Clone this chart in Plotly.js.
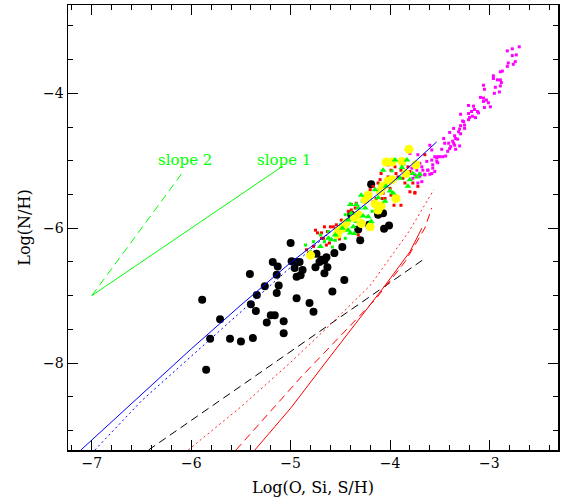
<!DOCTYPE html>
<html>
<head>
<meta charset="utf-8">
<script src="https://cdn.plot.ly/plotly-3.0.1.min.js"></script>
<style>html,body{margin:0;padding:0;background:#fff;}#chart{width:567px;height:498px;}</style>
</head>
<body>
<div id="chart"></div>
<script>
// ---- scatter data ----
const blackX = [-4.19,-5.00,-5.18,-5.13,-4.99,-4.94,-4.91,-4.96,-4.88,-4.94,-4.90,-5.41,-5.14,-5.26,-5.12,-5.14,-5.34,-5.89,-5.40,-5.35,-4.94,-4.81,-4.77,-5.20,-5.16,-5.24,-5.07,-5.07,-5.71,-5.81,-5.61,-5.50,-5.38,-5.85,-4.74,-4.71,-4.69,-4.66,-4.64,-4.63,-4.66,-4.75,-4.56,-4.48,-4.58,-4.46,-4.30,-4.39,-4.32,-4.21,-4.06,-4.01,-4.10,-4.07,-4.12];
const blackY = [-5.35,-6.22,-6.50,-6.57,-6.49,-6.50,-6.50,-6.59,-6.62,-6.72,-6.70,-6.68,-6.69,-6.86,-6.85,-6.96,-6.99,-7.06,-7.13,-7.23,-7.04,-7.11,-7.24,-7.29,-7.29,-7.40,-7.38,-7.56,-7.35,-7.64,-7.64,-7.68,-7.63,-8.10,-6.38,-6.50,-6.47,-6.48,-6.43,-6.58,-6.67,-6.58,-6.37,-6.28,-6.94,-6.77,-6.18,-5.80,-6.02,-5.95,-6.01,-5.96,-5.78,-5.78,-5.80];

const yellowX = [-3.81,-4.04,-3.98,-3.88,-3.74,-3.84,-3.98,-4.07,-3.94,-4.22,-4.25,-4.15,-4.09,-4.12,-4.32,-4.36,-4.29,-4.44,-4.20,-4.52,-4.47,-4.53,-4.80,-4.02,-4.10];
const yellowY = [-4.83,-5.02,-5.02,-5.01,-5.06,-5.19,-5.28,-5.38,-5.56,-5.51,-5.58,-5.64,-5.67,-5.73,-5.80,-5.84,-5.93,-5.92,-5.98,-6.04,-6.00,-6.09,-6.40,-5.30,-5.45];

const triX = [-4.07,-3.90,-3.83,-3.82,-3.80,-3.77,-3.73,-4.04,-4.15,-4.29,-4.32,-4.39,-4.42,-4.27,-4.22,-4.19,-3.97,-3.95,-4.70,-4.59,-4.40,-4.40,-4.34,-4.42,-4.36,-4.37,-4.55,-4.48,-4.12,-4.05,-3.88,-3.70,-4.62,-4.25,-4.00];
const triY = [-5.14,-5.26,-4.99,-5.38,-5.28,-5.19,-5.24,-5.38,-5.43,-5.51,-5.70,-5.78,-5.88,-5.82,-5.83,-5.90,-5.48,-4.99,-6.27,-6.17,-6.07,-5.65,-5.65,-6.03,-6.08,-5.98,-6.10,-6.00,-5.55,-5.60,-5.10,-5.20,-6.15,-5.70,-5.45];

const greenX = [-4.85,-4.80,-4.62,-4.55,-4.50,-4.45,-4.35,-4.28,-4.20,-4.10,-3.98,-3.86,-4.70,-4.66,-4.58,-4.77,-4.45,-4.18];
const greenY = [-6.25,-6.35,-6.05,-6.18,-5.95,-6.15,-5.90,-5.60,-5.55,-5.35,-5.15,-5.05,-6.10,-6.20,-6.28,-6.20,-5.80,-5.75];

const redX = [-4.02,-3.99,-3.95,-3.94,-3.92,-3.89,-3.87,-3.85,-3.82,-3.80,-3.77,-3.75,-3.72,-4.09,-4.12,-4.17,-4.20,-4.25,-4.34,-4.35,-4.39,-4.42,-4.07,-4.14,-4.17,-4.05,-3.99,-3.89,-3.65,-3.95,-4.02,-4.10,-3.75,-3.96,-4.69,-4.67,-4.60,-4.54,-4.66,-4.49,-4.39,-4.61,-4.77,-4.32,-4.69,-4.63,-4.57,-4.35,-4.25,-4.08,-4.00,-3.80,-4.84,-4.64,-4.75,-4.51,-4.73];
const redY = [-5.06,-5.14,-5.09,-5.19,-5.24,-5.14,-5.26,-5.33,-5.09,-5.16,-5.33,-5.48,-5.38,-5.19,-5.33,-5.38,-5.43,-5.56,-5.63,-5.70,-5.73,-5.75,-5.48,-5.56,-5.61,-5.56,-5.51,-5.66,-4.91,-5.28,-5.24,-5.28,-5.47,-5.66,-6.07,-6.15,-5.98,-5.95,-5.98,-5.88,-5.65,-6.22,-6.27,-6.10,-6.15,-6.05,-5.98,-5.78,-5.58,-5.56,-5.41,-5.46,-6.32,-6.25,-6.03,-6.16,-6.07];

const magX = [-2.70,-2.77,-2.73,-2.77,-2.82,-2.81,-2.74,-2.76,-2.82,-2.96,-2.96,-2.89,-2.87,-2.92,-2.89,-2.88,-2.89,-3.06,-3.05,-2.94,-2.95,-2.90,-3.09,-3.06,-3.03,-3.06,-2.99,-3.05,-3.01,-3.21,-3.16,-3.15,-3.18,-3.21,-3.12,-3.11,-3.29,-3.17,-3.20,-3.14,-3.27,-3.21,-3.26,-3.25,-3.29,-3.36,-3.30,-3.25,-3.31,-3.29,-3.40,-3.35,-3.34,-3.32,-3.37,-3.46,-3.45,-3.41,-3.36,-3.35,-3.30,-3.39,-3.40,-3.34,-3.42,-3.48,-3.50,-3.47,-3.44,-3.55,-3.52,-3.58,-3.53,-3.60,-3.57,-3.52,-3.62,-3.67,-3.65,-3.70,-3.68,-3.73,-3.75,-3.57,-3.55,-3.60,-3.78,-3.77,-3.70,-3.72,-3.63,-3.58,-3.53,-3.62,-3.70,-3.65,-3.58,-3.68,-3.72,-3.80];
const magY = [-3.31,-3.34,-3.43,-3.44,-3.37,-3.55,-3.53,-3.57,-3.60,-3.74,-3.78,-3.68,-3.67,-3.80,-3.80,-3.84,-3.89,-3.88,-3.94,-3.91,-4.00,-3.98,-4.06,-4.07,-4.10,-4.12,-4.20,-4.21,-4.14,-4.18,-4.19,-4.24,-4.27,-4.30,-4.27,-4.29,-4.31,-4.34,-4.36,-4.36,-4.41,-4.39,-4.42,-4.47,-4.48,-4.52,-4.53,-4.52,-4.57,-4.60,-4.58,-4.63,-4.67,-4.68,-4.71,-4.67,-4.74,-4.74,-4.74,-4.77,-4.78,-4.79,-4.82,-4.83,-4.86,-4.83,-4.94,-4.94,-4.93,-4.94,-4.94,-4.84,-5.01,-4.77,-5.06,-5.03,-5.14,-5.14,-5.20,-5.04,-5.09,-5.14,-5.21,-5.11,-5.16,-5.20,-5.11,-5.26,-5.23,-4.91,-5.01,-4.99,-4.96,-5.14,-5.19,-5.21,-5.19,-5.31,-5.33,-4.89];

// ---- model curves ----
const blueSolidX = [-7.11,-6.50,-6.00,-5.50,-5.00,-4.50,-4.00,-3.53];
const blueSolidY = [-9.29,-8.46,-7.79,-7.14,-6.51,-5.94,-5.35,-4.72];
const blueDotX = [-6.97,-6.50,-6.00,-5.50,-5.00,-4.75,-4.60];
const blueDotY = [-9.29,-8.56,-7.90,-7.24,-6.57,-6.25,-6.06];
const blackDashX = [-6.43,-3.65];
const blackDashY = [-9.29,-6.45];
const redDotX = [-6.03,-5.50,-5.00,-4.60,-4.20,-3.81,-3.56];
const redDotY = [-9.29,-8.65,-7.99,-7.43,-6.85,-6.05,-5.43];
const redDashX = [-5.55,-4.89,-4.15,-3.85,-3.65,-3.58];
const redDashY = [-9.29,-8.20,-7.06,-6.50,-6.00,-5.70];
const redSolidX = [-5.36,-5.00,-4.60,-4.05,-3.80,-3.68];
const redSolidY = [-9.29,-8.67,-7.90,-6.85,-6.35,-6.00];
const slope1X = [-7.0,-5.08];
const slope1Y = [-7.0,-5.08];
const slope2X = [-7.0,-6.07];
const slope2Y = [-7.0,-5.14];

const slopeLabels = ['slope 2','slope 1'];
const slopeLabelX = [-6.06,-5.07];
const slopeLabelY = [-4.99,-4.99];

const xTitle = 'Log(O, Si, S/H)';
const yTitle = 'Log(N/H)';

const xRange = [-7.24,-2.31];
const yRange = [-9.29,-2.69];

const FONT = 'DejaVu Serif, Liberation Serif, serif';

function pts(x, y, color, size, symbol) {
  return {x:x, y:y, mode:'markers', type:'scatter', hoverinfo:'skip',
    marker:{color:color, size:size, symbol:symbol||'circle', line:{width:0}}};
}
function ln(x, y, color, dash, width) {
  return {x:x, y:y, mode:'lines', type:'scatter', hoverinfo:'skip',
    line:{color:color, dash:dash, width:width||1}};
}

const traces = [
  pts(magX, magY, '#ff00ff', 3, 'square'),
  pts(blackX, blackY, '#000000', 8),
  pts(redX, redY, '#ff0000', 3, 'square'),
  pts(greenX, greenY, '#00ff00', 3, 'square'),
  pts(yellowX, yellowY, '#ffff00', 9),
  pts(triX, triY, '#00ff00', 6, 'triangle-up'),
  ln(blackDashX, blackDashY, '#000000', '8px,5px'),
  ln(redDotX, redDotY, '#ff2020', '2px,3px'),
  ln(redDashX, redDashY, '#ff0000', '8px,5px'),
  ln(redSolidX, redSolidY, '#ff0000', 'solid'),
  ln(blueDotX, blueDotY, '#0000ff', '2px,3px'),
  ln(blueSolidX, blueSolidY, '#0000ff', 'solid'),
  ln(slope1X, slope1Y, '#00ff00', 'solid'),
  ln(slope2X, slope2Y, '#00ff00', '8px,5px'),
  // carrier for the mirrored (top/right) tick axes
  {x:[null], y:[null], xaxis:'x2', yaxis:'y2', mode:'markers', type:'scatter', hoverinfo:'skip', showlegend:false}
];

const annotations = slopeLabels.map((t,i)=>({
  x: slopeLabelX[i], y: slopeLabelY[i], xref:'x', yref:'y', text:t, showarrow:false,
  font:{family:FONT, size:15, color:'#00ff00'}, xanchor:'center', yanchor:'middle'
}));

const axisCommon = {
  showgrid:false, zeroline:false, showline:true, linecolor:'#000', linewidth:1.5,
  ticks:'inside', ticklen:10, tickwidth:1, tickcolor:'#000',
  tickfont:{family:FONT, size:14, color:'#000'}
};
const xMinor = {dtick:0.2, ticklen:5, ticks:'inside', tickcolor:'#000', tickwidth:1};
const yMinor = {dtick:0.5, ticklen:5, ticks:'inside', tickcolor:'#000', tickwidth:1};

const layout = {
  width:567, height:498,
  margin:{l:68, r:9, t:5, b:48},
  paper_bgcolor:'#fff', plot_bgcolor:'#fff',
  showlegend:false,
  xaxis: Object.assign({}, axisCommon, {
    range:xRange, dtick:1, tick0:0, minor:xMinor,
    title:{text:xTitle, font:{family:FONT, size:16, color:'#000'}, standoff:11}
  }),
  yaxis: Object.assign({}, axisCommon, {
    range:yRange, dtick:2, tick0:0, minor:yMinor,
    title:{text:yTitle, font:{family:FONT, size:16, color:'#000'}, standoff:8}
  }),
  xaxis2: Object.assign({}, axisCommon, {
    range:xRange, dtick:1, tick0:0, minor:xMinor, overlaying:'x', side:'top', anchor:'y2',
    showticklabels:false
  }),
  yaxis2: Object.assign({}, axisCommon, {
    range:yRange, dtick:2, tick0:0, minor:yMinor, overlaying:'y', side:'right', anchor:'x2',
    showticklabels:false
  }),
  annotations: annotations
};

Plotly.newPlot('chart', traces, layout, {displayModeBar:false, staticPlot:true});
</script>
</body>
</html>
